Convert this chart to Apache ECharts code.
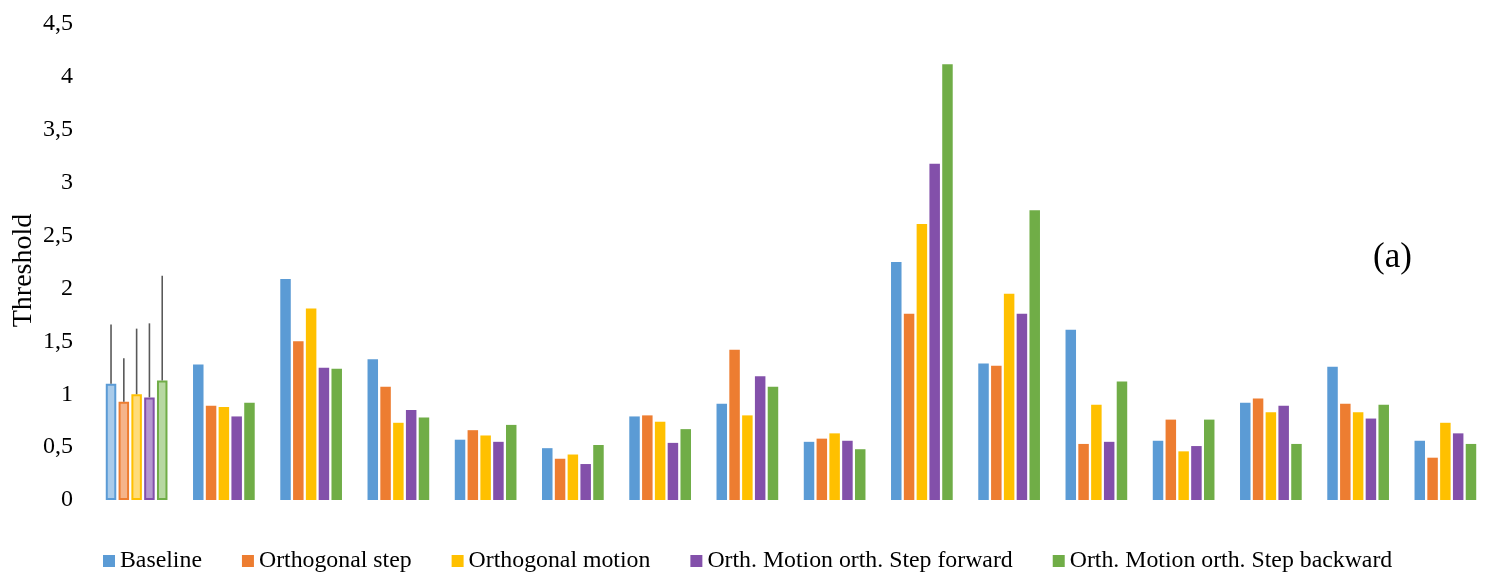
<!DOCTYPE html>
<html>
<head>
<meta charset="utf-8">
<script src="https://cdn.jsdelivr.net/npm/echarts@6/dist/echarts.min.js"></script>
<style>
  html, body { margin: 0; padding: 0; background: #fff; }
  #main { width: 1493px; height: 573px; }
</style>
</head>
<body>
<div id="main"></div>
<script>
var myChart = echarts.init(document.getElementById('main'));

var categories = ['1', '2', '3', '4', '5', '6', '7', '8', '9', '10', '11', '12', '13', '14', '15', '16'];
var seriesNames = ['Baseline', 'Orthogonal step', 'Orthogonal motion',
                   'Orth. Motion orth. Step forward', 'Orth. Motion orth. Step backward'];
var baseline    = [1.10, 1.28, 2.09, 1.33, 0.57, 0.49, 0.79, 0.91, 0.55, 2.25, 1.29, 1.61, 0.56, 0.92, 1.26, 0.56];
var orthStep    = [0.93, 0.89, 1.50, 1.07, 0.66, 0.39, 0.80, 1.42, 0.58, 1.76, 1.27, 0.53, 0.76, 0.96, 0.91, 0.40];
var orthMotion  = [1.00, 0.88, 1.81, 0.73, 0.61, 0.43, 0.74, 0.80, 0.63, 2.61, 1.95, 0.90, 0.46, 0.83, 0.83, 0.73];
var stepForward = [0.97, 0.79, 1.25, 0.85, 0.55, 0.34, 0.54, 1.17, 0.56, 3.18, 1.76, 0.55, 0.51, 0.89, 0.77, 0.63];
var stepBackward= [1.13, 0.92, 1.24, 0.78, 0.71, 0.52, 0.67, 1.07, 0.48, 4.12, 2.74, 1.12, 0.76, 0.53, 0.90, 0.53];
// upper end of the error bars, first group only
var errorTop    = [1.66, 1.34, 1.62, 1.67, 2.12];
var yTicks      = [0, 0.5, 1, 1.5, 2, 2.5, 3, 3.5, 4, 4.5];

var colors = ['#5B9BD5', '#ED7D31', '#FFC000', '#8350AA', '#70AD47'];
var lightColors = ['#A9CBEA', '#F5B48A', '#FFDC7A', '#B699D1', '#B7D8A1'];
var allValues = [baseline, orthStep, orthMotion, stepForward, stepBackward];

var barWidth = 10.5;
var gapPx = 2.3;
var FONT = 'Liberation Serif';

function barOffset(i) {
  var total = 5 * barWidth + 4 * gapPx;
  return -total / 2 + i * (barWidth + gapPx) + barWidth / 2;
}

var series = [];
allValues.forEach(function (vals, i) {
  series.push({
    name: seriesNames[i],
    type: 'bar',
    barWidth: barWidth,
    barGap: (gapPx / barWidth * 100) + '%',
    itemStyle: { color: colors[i] },
    data: vals.map(function (v, k) {
      if (k === 0) {
        return {
          value: v,
          itemStyle: { color: lightColors[i], borderColor: colors[i], borderWidth: 2 }
        };
      }
      return v;
    })
  });
});

allValues.forEach(function (vals, i) {
  series.push({
    type: 'custom',
    silent: true,
    z: 5,
    data: [[0, vals[0], errorTop[i]]],
    encode: { x: 0, y: [1, 2] },
    renderItem: function (params, api) {
      var p0 = api.coord([api.value(0), api.value(1)]);
      var p1 = api.coord([api.value(0), api.value(2)]);
      var x = p0[0] + barOffset(i);
      return {
        type: 'line',
        shape: { x1: x, y1: p0[1], x2: x, y2: p1[1] },
        style: { stroke: '#595959', lineWidth: 1.6 }
      };
    }
  });
});

var option = {
  backgroundColor: '#ffffff',
  color: colors,
  animation: false,
  textStyle: { fontFamily: FONT, color: '#000' },
  grid: {
    left: 93,
    right: 4,
    top: 24,
    bottom: 73,
    outerBoundsMode: 'none'
  },
  legend: {
    data: seriesNames,
    left: 98,
    top: 544,
    icon: 'rect',
    itemWidth: 12,
    itemHeight: 12,
    itemGap: 40,
    textStyle: { fontFamily: FONT, fontSize: 23.8, color: '#000' }
  },
  xAxis: {
    type: 'category',
    data: categories,
    axisLine: { show: false },
    axisTick: { show: false },
    axisLabel: { show: false }
  },
  yAxis: {
    type: 'value',
    min: yTicks[0],
    max: yTicks[yTicks.length - 1],
    interval: yTicks[1] - yTicks[0],
    name: 'Threshold',
    nameLocation: 'middle',
    nameRotate: 90,
    nameGap: 55,
    nameMoveOverlap: false,
    nameTextStyle: { fontFamily: FONT, fontSize: 28, color: '#000', padding: [0, 17, 0, 0] },
    axisLine: { show: false },
    axisTick: { show: false },
    splitLine: { show: false },
    axisLabel: {
      fontFamily: FONT,
      fontSize: 24,
      color: '#000',
      margin: 20,
      formatter: function (v) { return String(v).replace('.', ','); }
    }
  },
  graphic: [{
    type: 'text',
    left: 1373,
    top: 240,
    style: { text: '(a)', font: '35px "Liberation Serif"', fill: '#000' }
  }],
  series: series
};

myChart.setOption(option);
</script>
</body>
</html>
